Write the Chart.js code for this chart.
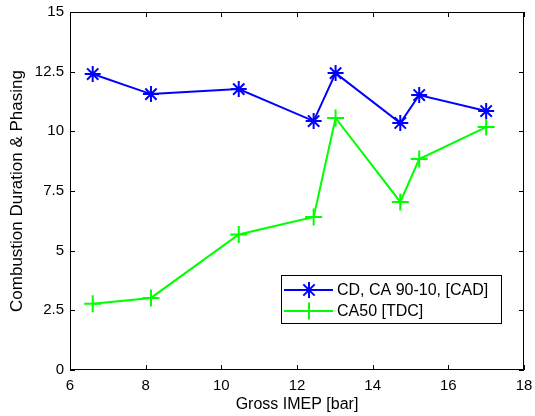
<!DOCTYPE html>
<html><head><meta charset="utf-8">
<script src="https://cdn.jsdelivr.net/npm/chart.js@4/dist/chart.umd.min.js"></script>
<style>html,body{margin:0;padding:0;background:#fff}#wrap{width:535px;height:416px}</style>
</head><body><div id="wrap"><canvas id="c" width="535" height="416"></canvas></div>
<script>
const grossIMEP = [6.6, 8.14, 10.46, 12.44, 13.02, 14.73, 15.23, 17.0];
const cdValues = [12.40, 11.56, 11.77, 10.43, 12.44, 10.35, 11.52, 10.85];
const ca50Values = [2.78, 3.02, 5.68, 6.41, 10.56, 7.04, 8.84, 10.18];
const seriesLabels = ['CD, CA 90-10, [CAD]', 'CA50 [TDC]'];
const yTickLabels = ['0', '2.5', '5', '7.5', '10', '12.5', '15'];
const xTickLabels = ['6', '8', '10', '12', '14', '16', '18'];

const FONT = 'Liberation Sans, Arial, sans-serif';

const boxPlugin = {
  id: 'box',
  afterDatasetsDraw(chart) {
    const {ctx, chartArea: a, scales} = chart;
    ctx.save();
    ctx.strokeStyle = '#000';
    ctx.lineWidth = 1;
    ctx.strokeRect(a.left + 0.5, a.top + 0.5, a.right - a.left - 1, a.bottom - a.top - 1);
    const L = 5;
    ctx.beginPath();
    scales.x.ticks.forEach(t => {
      const px = Math.round(scales.x.getPixelForValue(t.value)) + 0.5;
      ctx.moveTo(px, a.bottom); ctx.lineTo(px, a.bottom - L);
      ctx.moveTo(px, a.top); ctx.lineTo(px, a.top + L);
    });
    scales.y.ticks.forEach(t => {
      const py = Math.round(scales.y.getPixelForValue(t.value)) + 0.5;
      ctx.moveTo(a.left, py); ctx.lineTo(a.left + L, py);
      ctx.moveTo(a.right, py); ctx.lineTo(a.right - L, py);
    });
    ctx.stroke();

    // legend
    const lx = a.left + 211, ly = a.top + 263, lw = 220, lh = 48;
    ctx.fillStyle = '#fff';
    ctx.fillRect(lx, ly, lw, lh);
    ctx.strokeRect(lx + 0.5, ly + 0.5, lw, lh);
    chart.data.datasets.forEach((ds, i) => {
      const cy = ly + 15 + i * 21;
      ctx.strokeStyle = ds.borderColor;
      ctx.lineWidth = 2;
      ctx.beginPath();
      ctx.moveTo(lx + 3, cy); ctx.lineTo(lx + 52, cy);
      ctx.stroke();
      Chart.helpers.drawPoint(ctx, {pointStyle: ds.pointStyle, radius: ds.pointRadius, borderWidth: 2}, lx + 28, cy);
      ctx.fillStyle = '#000';
      ctx.font = '16px ' + FONT;
      ctx.textBaseline = 'middle';
      ctx.textAlign = 'left';
      ctx.fillText(ds.label, lx + 56, cy + 1);
    });
    ctx.restore();
  }
};

new Chart(document.getElementById('c'), {
  type: 'scatter',
  data: {
    datasets: [
      {
        label: seriesLabels[0],
        data: grossIMEP.map((x, i) => ({x, y: cdValues[i]})),
        showLine: true,
        borderColor: '#0000ff',
        backgroundColor: '#0000ff',
        borderWidth: 2,
        pointStyle: 'star',
        pointRadius: 8,
        pointBorderWidth: 2,
        pointHoverRadius: 8
      },
      {
        label: seriesLabels[1],
        data: grossIMEP.map((x, i) => ({x, y: ca50Values[i]})),
        showLine: true,
        borderColor: '#00ff00',
        backgroundColor: '#00ff00',
        borderWidth: 2,
        pointStyle: 'cross',
        pointRadius: 8.5,
        pointBorderWidth: 2,
        pointHoverRadius: 8.5
      }
    ]
  },
  options: {
    responsive: false,
    animation: false,
    layout: {padding: {left: 0, top: 12, right: 11, bottom: 0}},
    plugins: {legend: {display: false}, tooltip: {enabled: false}},
    scales: {
      x: {
        type: 'linear', min: 6, max: 18,
        afterFit(s) { s.height = 46; s.paddingLeft = 0; s.paddingRight = 0; },
        afterBuildTicks(s) { s.ticks = xTickLabels.map(v => ({value: Number(v)})); },
        grid: {display: false, drawTicks: false},
        border: {display: false},
        ticks: {color: '#000', font: {family: FONT, size: 15}, padding: 7,
          callback: (v) => xTickLabels.find(l => Number(l) === v) ?? ''},
        title: {display: true, text: 'Gross IMEP [bar]', color: '#000', font: {family: FONT, size: 16}, padding: {top: 0, bottom: 2}}
      },
      y: {
        type: 'linear', min: 0, max: 15,
        afterFit(s) { s.width = 70; s.paddingTop = 0; s.paddingBottom = 0; },
        afterBuildTicks(s) { s.ticks = yTickLabels.map(v => ({value: Number(v)})); },
        grid: {display: false, drawTicks: false},
        border: {display: false},
        ticks: {color: '#000', font: {family: FONT, size: 15}, padding: 6,
          callback: (v) => yTickLabels.find(l => Number(l) === v) ?? ''},
        title: {display: true, text: 'Combustion Duration & Phasing', color: '#000', font: {family: FONT, size: 17}, padding: {top: 7, bottom: 0}}
      }
    }
  },
  plugins: [boxPlugin]
});
</script></body></html>
